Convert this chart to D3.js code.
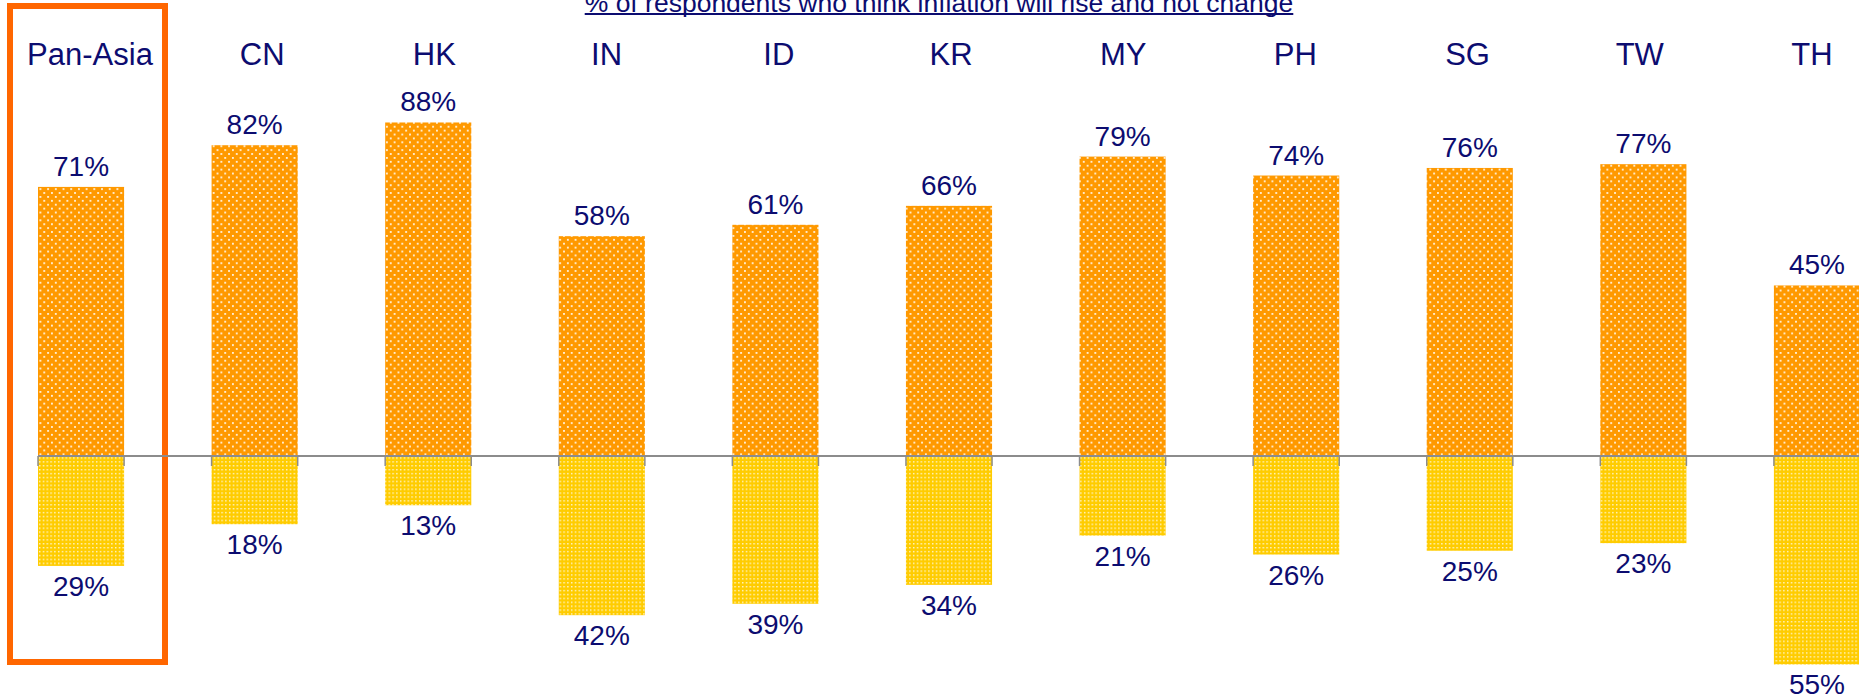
<!DOCTYPE html>
<html>
<head>
<meta charset="utf-8">
<script src="https://cdn.jsdelivr.net/npm/d3@7"></script>
<style>
    body { margin: 0; background: #fff; }
    #chart { width: 1859px; height: 700px; }
    text { font-family: "Liberation Sans", Arial, sans-serif; }
</style>
</head>
<body>
<div id="chart"></div>
<script>
// Markets, Pan-Asia first
var markets = ["Pan-Asia", "CN", "HK", "IN", "ID", "KR", "MY", "PH", "SG", "TW", "TH"];
// % who think inflation will rise
var riseValues = [71, 82, 88, 58, 61, 66, 79, 74, 76, 77, 45];
// % who think inflation will not change
var noChangeValues = [29, 18, 13, 42, 39, 34, 21, 26, 25, 23, 55];
var chartTitle = "% of respondents who think inflation will rise and not change";

var navy = "#0c0c70";

function createChart() {
    var width = 1859, height = 700;

    var svg = d3.select("#chart")
        .html("")
        .append("svg")
        .attr("width", width)
        .attr("height", height);

    // dotted fills for the two series
    var defs = svg.append("defs");
    var pRise = defs.append("pattern")
        .attr("id", "dotsRise")
        .attr("patternUnits", "userSpaceOnUse")
        .attr("width", 7.7).attr("height", 7.8);
    pRise.append("rect").attr("width", 7.7).attr("height", 7.8).attr("fill", "#ff9900");
    pRise.append("rect").attr("x", 1).attr("y", 1).attr("width", 1.8).attr("height", 1.8)
        .attr("fill", "#fff").attr("opacity", 0.9);
    pRise.append("rect").attr("x", 4.85).attr("y", 4.9).attr("width", 1.8).attr("height", 1.8)
        .attr("fill", "#fff").attr("opacity", 0.9);

    var pSame = defs.append("pattern")
        .attr("id", "dotsSame")
        .attr("patternUnits", "userSpaceOnUse")
        .attr("width", 3.8).attr("height", 3.9);
    pSame.append("rect").attr("width", 3.8).attr("height", 3.9).attr("fill", "#ffcc00");
    pSame.append("rect").attr("x", 1).attr("y", 1).attr("width", 1.4).attr("height", 1.4)
        .attr("fill", "#fff").attr("opacity", 0.85);

    var x = d3.scaleBand()
        .domain(markets)
        .range([38, 1860])
        .paddingInner(0.504)
        .paddingOuter(0);

    // header labels sit on their own, slightly different spacing
    var xLabel = d3.scalePoint()
        .domain(markets)
        .range([90, 1812]);

    var y = d3.scaleLinear()
        .domain([0, 100])
        .range([456, 77]);

    // title (cut off at the top, underlined)
    var title = svg.append("text")
        .attr("x", 939)
        .attr("y", 12)
        .attr("text-anchor", "middle")
        .attr("fill", navy)
        .style("font-size", "26.5px")
        .text(chartTitle);
    var tb = title.node().getBBox();
    svg.append("line")
        .attr("x1", tb.x).attr("x2", tb.x + tb.width)
        .attr("y1", 14).attr("y2", 14)
        .attr("stroke", navy)
        .attr("stroke-width", 2);

    // Pan-Asia highlight box
    svg.append("rect")
        .attr("x", 10)
        .attr("y", 6)
        .attr("width", 155)
        .attr("height", 656)
        .attr("fill", "none")
        .attr("stroke", "#ff6600")
        .attr("stroke-width", 6);

    // market names
    svg.selectAll(".market")
        .data(markets)
        .enter()
        .append("text")
        .attr("class", "market")
        .attr("x", function (d) { return xLabel(d); })
        .attr("y", 65)
        .attr("text-anchor", "middle")
        .attr("fill", navy)
        .style("font-size", "31px")
        .text(function (d) { return d; });

    // rise bars (up)
    svg.selectAll(".rise")
        .data(riseValues)
        .enter()
        .append("rect")
        .attr("class", "rise")
        .attr("x", function (d, i) { return x(markets[i]); })
        .attr("y", function (d) { return y(d); })
        .attr("width", x.bandwidth())
        .attr("height", function (d) { return y(0) - y(d); })
        .attr("fill", "url(#dotsRise)");

    // no change bars (down)
    svg.selectAll(".same")
        .data(noChangeValues)
        .enter()
        .append("rect")
        .attr("class", "same")
        .attr("x", function (d, i) { return x(markets[i]); })
        .attr("y", y(0))
        .attr("width", x.bandwidth())
        .attr("height", function (d) { return y(0) - y(d); })
        .attr("fill", "url(#dotsSame)");

    // zero line with ticks at the bar edges
    svg.append("line")
        .attr("x1", x.range()[0]).attr("x2", width)
        .attr("y1", y(0)).attr("y2", y(0))
        .attr("stroke", "#8c8c8c")
        .attr("stroke-width", 2);

    markets.forEach(function (m) {
        [x(m), x(m) + x.bandwidth()].forEach(function (tx) {
            svg.append("line")
                .attr("x1", tx).attr("x2", tx)
                .attr("y1", y(0)).attr("y2", y(0) + 10)
                .attr("stroke", "#8c8c8c")
                .attr("stroke-width", 1.5);
        });
    });

    // value labels
    svg.selectAll(".riseLabel")
        .data(riseValues)
        .enter()
        .append("text")
        .attr("class", "riseLabel")
        .attr("x", function (d, i) { return x(markets[i]) + x.bandwidth() / 2; })
        .attr("y", function (d) { return y(d) - 11; })
        .attr("text-anchor", "middle")
        .attr("fill", navy)
        .style("font-size", "28px")
        .text(function (d) { return d + "%"; });

    svg.selectAll(".sameLabel")
        .data(noChangeValues)
        .enter()
        .append("text")
        .attr("class", "sameLabel")
        .attr("x", function (d, i) { return x(markets[i]) + x.bandwidth() / 2; })
        .attr("y", function (d) { return y(-d) + 30; })
        .attr("text-anchor", "middle")
        .attr("fill", navy)
        .style("font-size", "28px")
        .text(function (d) { return d + "%"; });
}

createChart();
</script>
</body>
</html>
